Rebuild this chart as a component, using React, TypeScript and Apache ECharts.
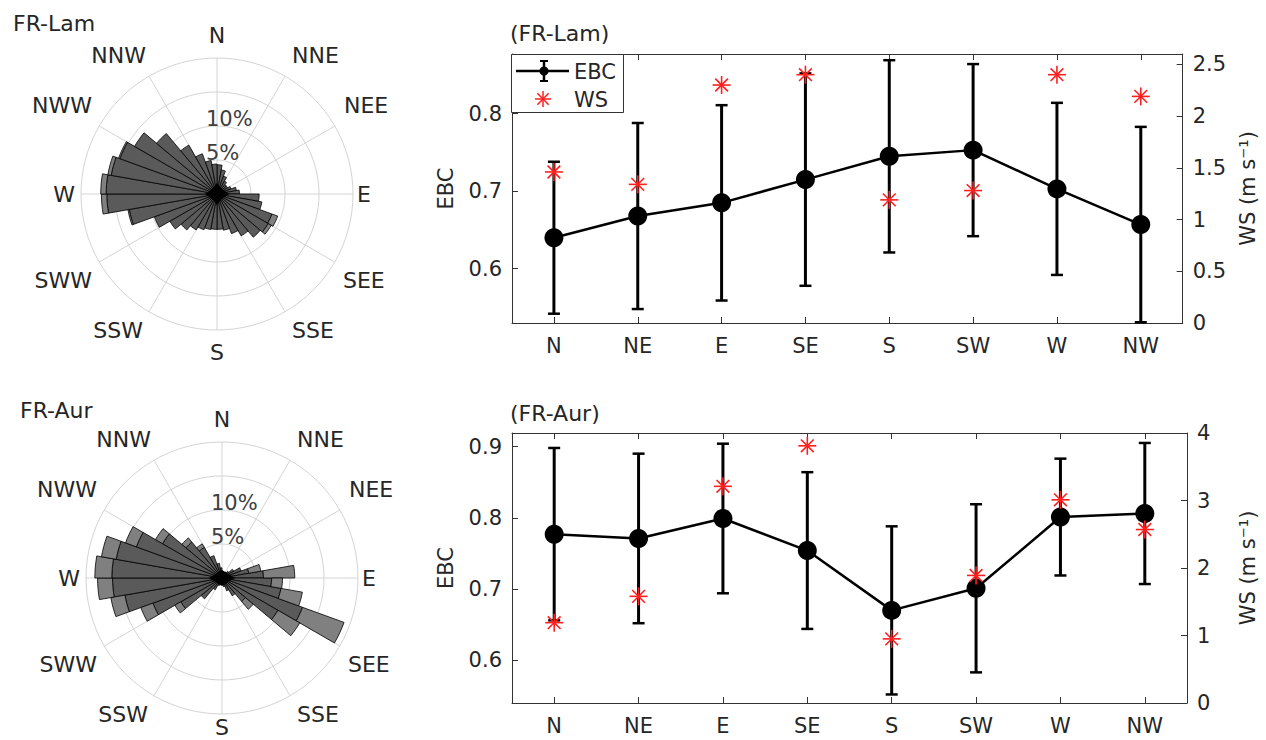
import React, { useEffect, useRef } from 'react';
import * as echarts from 'echarts';

// ---------------- data ----------------
const sectors = ['N', 'NE', 'E', 'SE', 'S', 'SW', 'W', 'NW'];

const ebcLam = [0.640, 0.668, 0.685, 0.715, 0.745, 0.753, 0.703, 0.657];
const ebcLamSd = [0.098, 0.120, 0.126, 0.137, 0.124, 0.111, 0.111, 0.126];
const wsLam = [1.46, 1.34, 2.30, 2.40, 1.19, 1.28, 2.40, 2.19];

const ebcAur = [0.777, 0.771, 0.799, 0.754, 0.670, 0.701, 0.801, 0.806];
const ebcAurSd = [0.121, 0.119, 0.105, 0.110, 0.118, 0.118, 0.082, 0.099];
const wsAur = [1.19, 1.58, 3.21, 3.81, 0.95, 1.89, 3.01, 2.57];

// wind-rose bins (centre direction, degrees clockwise from N)
const roseDirs = [5, 15, 25, 35, 45, 55, 65, 75, 85, 95, 105, 115, 125, 135, 145, 155, 165, 175,
  185, 195, 205, 215, 225, 235, 245, 255, 265, 275, 285, 295, 305, 315, 325, 335, 345, 355];
// frequency (%) – dark (low speed) part and light (high speed) part
const lamDark = [4.3, 3.6, 2.8, 2.2, 1.8, 1.8, 2.2, 2.9, 3.3, 6.2, 6.7, 8.6, 8.7, 8.3, 7.1, 6.2, 5.4, 5.2,
  5.2, 5.3, 5.6, 6.1, 6.9, 8.0, 9.8, 13.1, 16.2, 16.3, 15.8, 15.2, 14.0, 11.6, 8.3, 6.3, 5.0, 4.4];
const lamLight = [0, 0, 0, 0, 0, 0, 0, 0, 0, 0, 0, 0.9, 0.5, 0, 0, 0, 0, 0,
  0, 0, 0, 0, 0, 0, 0, 0.2, 0.8, 0.8, 0.5, 0.2, 0, 0, 0, 0, 0, 0];
const aurDark = [1.0, 0.9, 0.9, 1.0, 1.3, 2.0, 3.0, 4.0, 6.1, 7.3, 8.8, 12.6, 9.5, 4.5, 3.0, 2.0, 1.3, 1.0,
  0.9, 1.0, 1.2, 2.0, 4.0, 7.0, 10.8, 14.5, 16.1, 16.2, 15.8, 13.4, 10.1, 6.9, 5.2, 3.5, 2.2, 1.5];
const aurLight = [0, 0, 0, 0, 0, 0, 0, 1.8, 4.6, 1.6, 3.2, 6.5, 3.7, 1.5, 0, 0, 0, 0,
  0, 0, 0, 0, 0, 1.0, 1.9, 2.1, 2.2, 2.5, 2.2, 1.7, 1.2, 0.8, 0.6, 0, 0, 0];

const roseRings = [5, 10, 15, 20];
const ringLabels = ['5%', '10%'];
const spokeDirs = [0, 30, 60, 90, 120, 150, 180, 210, 240, 270, 300, 330];
const dirLabels = ['N', 'NNE', 'NEE', 'E', 'SEE', 'SSE', 'S', 'SSW', 'SWW', 'W', 'NWW', 'NNW'];

// ---------------- style / layout ----------------
const FONT = 'DejaVu Sans';
const TXT = '#262626';
const AX = '#333333';
const RED = '#ff1f1f';
const DARK = '#5a5a5a';
const LIGHT = '#808080';
const ROSE_R = 136; // px of the 20 % ring
const roseLam = { cx: 217, cy: 194, blobX: 12, blobY: 11 };
const roseAur = { cx: 222, cy: 578, blobX: 13, blobY: 8 };
// label placement around rose: [dx, dy, align]
const labelPos: [number, number, string][] = [
  [0, -159, 'center'], [75, -139, 'left'], [127, -89, 'left'], [140, 0, 'left'],
  [126, 86, 'left'], [75, 136, 'left'], [0, 158, 'center'], [-74, 136, 'right'],
  [-125, 86, 'right'], [-142, 0, 'right'], [-125, -89, 'right'], [-71, -139, 'right'],
];

function catAxis(gridIndex: number, position: string, showLabel: boolean) {
  return {
    type: 'category', gridIndex, position, data: sectors, boundaryGap: true,
    axisLine: { show: true, onZero: false, lineStyle: { color: AX, width: 1 } },
    axisTick: { show: true, inside: true, alignWithLabel: true, length: 6, lineStyle: { color: AX } },
    axisLabel: { show: showLabel, color: TXT, fontFamily: FONT, fontSize: 21, margin: 12 },
    splitLine: { show: false },
  };
}

function valAxis(gridIndex: number, position: string, extra: any, name: string, nameGap: number) {
  return {
    type: 'value', gridIndex, position,
    axisLine: { show: true, onZero: false, lineStyle: { color: AX, width: 1 } },
    axisTick: { show: true, inside: true, length: 6, lineStyle: { color: AX } },
    axisLabel: { color: TXT, fontFamily: FONT, fontSize: 21, margin: 10, showMinLabel: extra.showMin, showMaxLabel: extra.showMax },
    splitLine: { show: false },
    name, nameLocation: 'middle', nameGap, nameRotate: 90,
    nameTextStyle: { color: TXT, fontFamily: FONT, fontSize: 21 },
    ...extra.range,
  };
}

function hiddenAxis(gridIndex: number) {
  return { type: 'value', gridIndex, min: -20, max: 20, show: false };
}

const errRender = (params: any, api: any) => {
  const x = api.value(0), m = api.value(1), e = api.value(2);
  const top = api.coord([x, m + e]);
  const bot = api.coord([x, m - e]);
  const w = 6;
  const st = { stroke: '#000', lineWidth: 3 };
  return {
    type: 'group', children: [
      { type: 'line', shape: { x1: top[0], y1: top[1], x2: bot[0], y2: bot[1] }, style: st },
      { type: 'line', shape: { x1: top[0] - w, y1: top[1], x2: top[0] + w, y2: top[1] }, style: { stroke: '#000', lineWidth: 2.5 } },
      { type: 'line', shape: { x1: bot[0] - w, y1: bot[1], x2: bot[0] + w, y2: bot[1] }, style: { stroke: '#000', lineWidth: 2.5 } },
    ],
  };
};

function asterisk(cx: number, cy: number, h: number, lw: number) {
  const d = h * 0.7071;
  const st = { stroke: RED, lineWidth: lw };
  return [
    { type: 'line', shape: { x1: cx, y1: cy - h, x2: cx, y2: cy + h }, style: st },
    { type: 'line', shape: { x1: cx - h, y1: cy, x2: cx + h, y2: cy }, style: st },
    { type: 'line', shape: { x1: cx - d, y1: cy - d, x2: cx + d, y2: cy + d }, style: st },
    { type: 'line', shape: { x1: cx - d, y1: cy + d, x2: cx + d, y2: cy - d }, style: st },
  ];
}

const starRender = (params: any, api: any) => {
  const p = api.coord([api.value(0), api.value(1)]);
  return { type: 'group', children: asterisk(p[0], p[1], 9, 1.6) };
};

function roseBarRender(fill: string) {
  return (params: any, api: any) => {
    const ang = api.value(0), r0 = api.value(1), r1 = api.value(2);
    if (!(r1 > r0)) return null;
    const pts: number[][] = [];
    const steps = 4;
    for (let s = 0; s <= steps; s++) {
      const a = (ang - 5 + (10 * s) / steps) * Math.PI / 180;
      pts.push(api.coord([r1 * Math.sin(a), r1 * Math.cos(a)]));
    }
    for (let s = steps; s >= 0; s--) {
      const a = (ang - 5 + (10 * s) / steps) * Math.PI / 180;
      pts.push(api.coord([r0 * Math.sin(a), r0 * Math.cos(a)]));
    }
    return { type: 'polygon', shape: { points: pts }, style: { fill, stroke: '#000', lineWidth: 0.8 } };
  };
}

const ringRender = (params: any, api: any) => {
  const r = api.value(0);
  const c = api.coord([0, 0]);
  const e = api.coord([r, 0]);
  return { type: 'circle', shape: { cx: c[0], cy: c[1], r: e[0] - c[0] }, style: { fill: 'none', stroke: '#d4d4d4', lineWidth: 1 } };
};

const spokeRender = (params: any, api: any) => {
  const a = api.value(0) * Math.PI / 180;
  const c = api.coord([0, 0]);
  const e = api.coord([20 * Math.sin(a), 20 * Math.cos(a)]);
  return { type: 'line', shape: { x1: c[0], y1: c[1], x2: e[0], y2: e[1] }, style: { stroke: '#d4d4d4', lineWidth: 1 } };
};

function roseSeries(axisIndex: number, dark: number[], light: number[]) {
  const base = { type: 'custom', coordinateSystem: 'cartesian2d', xAxisIndex: axisIndex, yAxisIndex: axisIndex, silent: true, clip: false };
  return [
    { ...base, z: 1, renderItem: ringRender, data: roseRings.map((r) => [r, 0]) },
    { ...base, z: 1, renderItem: spokeRender, data: spokeDirs.map((d) => [d, 0]) },
    { ...base, z: 2, renderItem: roseBarRender(DARK), data: roseDirs.map((d, i) => [d, 0, dark[i]]) },
    { ...base, z: 2, renderItem: roseBarRender(LIGHT), data: roseDirs.map((d, i) => [d, dark[i], dark[i] + light[i]]) },
  ];
}

function roseGraphics(c: { cx: number; cy: number; blobX: number; blobY: number }, title: string, tx: number, ty: number) {
  const els: any[] = [];
  dirLabels.forEach((lab, i) => {
    const [dx, dy, align] = labelPos[i];
    const y = Math.min(c.cy + dy, 727);
    els.push({ type: 'text', x: c.cx + dx, y, style: { text: lab, fill: TXT, font: `22px "${FONT}"`, textAlign: align, textVerticalAlign: 'middle' }, z: 10 });
  });
  ringLabels.forEach((lab, i) => {
    els.push({ type: 'text', x: c.cx - 11, y: c.cy - (roseRings[i] / 20) * ROSE_R + 3, style: { text: lab, fill: '#404040', font: `21px "${FONT}"`, textAlign: 'left', textVerticalAlign: 'bottom' }, z: 10 });
  });
  const bx = c.blobX, by = c.blobY, bi = 5;
  els.push({
    type: 'polygon', z: 10,
    shape: { points: [[c.cx, c.cy - by], [c.cx + bi, c.cy - bi], [c.cx + bx, c.cy], [c.cx + bi, c.cy + bi], [c.cx, c.cy + by], [c.cx - bi, c.cy + bi], [c.cx - bx, c.cy], [c.cx - bi, c.cy - bi]] },
    style: { fill: '#000' },
  });
  els.push({ type: 'circle', shape: { cx: c.cx, cy: c.cy, r: 6 }, style: { fill: '#000' }, z: 10 });
  els.push({ type: 'text', x: tx, y: ty, style: { text: title, fill: TXT, font: `22px "${FONT}"`, textAlign: 'left', textVerticalAlign: 'middle' }, z: 10 });
  return els;
}

function legendGraphics() {
  const x0 = 511.5, y0 = 54.5;
  const els: any[] = [
    { type: 'rect', shape: { x: x0, y: y0, width: 112, height: 58 }, style: { fill: '#fff', stroke: AX, lineWidth: 1 }, z: 50 },
    { type: 'line', shape: { x1: 516, y1: 71, x2: 569, y2: 71 }, style: { stroke: '#000', lineWidth: 2.5 }, z: 51 },
    { type: 'line', shape: { x1: 544, y1: 61, x2: 544, y2: 81 }, style: { stroke: '#000', lineWidth: 2.5 }, z: 51 },
    { type: 'line', shape: { x1: 540, y1: 61, x2: 548, y2: 61 }, style: { stroke: '#000', lineWidth: 2 }, z: 51 },
    { type: 'line', shape: { x1: 540, y1: 81, x2: 548, y2: 81 }, style: { stroke: '#000', lineWidth: 2 }, z: 51 },
    { type: 'circle', shape: { cx: 544, cy: 71, r: 4.5 }, style: { fill: '#000' }, z: 51 },
    { type: 'text', x: 574, y: 72, style: { text: 'EBC', fill: TXT, font: `21px "${FONT}"`, textVerticalAlign: 'middle' }, z: 51 },
    { type: 'text', x: 574, y: 100, style: { text: 'WS', fill: TXT, font: `21px "${FONT}"`, textVerticalAlign: 'middle' }, z: 51 },
  ];
  asterisk(543, 99, 8, 1.5).forEach((l) => els.push({ ...l, z: 51 }));
  return els;
}

function buildOption() {
  return {
    animation: false,
    backgroundColor: '#fff',
    grid: [
      { left: 512, top: 54, width: 681, height: 269 },
      { left: 512, top: 433, width: 681, height: 270 },
      { left: roseLam.cx - ROSE_R, top: roseLam.cy - ROSE_R, width: 2 * ROSE_R, height: 2 * ROSE_R },
      { left: roseAur.cx - ROSE_R, top: roseAur.cy - ROSE_R, width: 2 * ROSE_R, height: 2 * ROSE_R },
    ],
    xAxis: [
      catAxis(0, 'bottom', true), catAxis(0, 'top', false),
      catAxis(1, 'bottom', true), catAxis(1, 'top', false),
      hiddenAxis(2), hiddenAxis(3),
    ],
    yAxis: [
      valAxis(0, 'left', { showMin: false, showMax: false, range: { min: 0.53, max: 0.877, splitNumber: 3 } }, 'EBC', 56),
      valAxis(0, 'right', { showMin: true, showMax: false, range: { min: 0, max: 2.6, interval: 0.5 } }, 'WS (m s⁻¹)', 50),
      valAxis(1, 'left', { showMin: false, showMax: false, range: { min: 0.54, max: 0.919, splitNumber: 3 } }, 'EBC', 56),
      valAxis(1, 'right', { showMin: true, showMax: true, range: { min: 0, max: 4, interval: 1 } }, 'WS (m s⁻¹)', 50),
      hiddenAxis(2), hiddenAxis(3),
    ],
    series: [
      { type: 'custom', xAxisIndex: 0, yAxisIndex: 0, z: 2, renderItem: errRender, data: ebcLam.map((m, i) => [i, m, ebcLamSd[i]]) },
      { type: 'line', xAxisIndex: 0, yAxisIndex: 0, z: 3, data: ebcLam, symbol: 'circle', symbolSize: 19, itemStyle: { color: '#000' }, lineStyle: { color: '#000', width: 2.5 } },
      { type: 'custom', xAxisIndex: 0, yAxisIndex: 1, z: 4, renderItem: starRender, data: wsLam.map((v, i) => [i, v]) },
      { type: 'custom', xAxisIndex: 2, yAxisIndex: 2, z: 2, renderItem: errRender, data: ebcAur.map((m, i) => [i, m, ebcAurSd[i]]) },
      { type: 'line', xAxisIndex: 2, yAxisIndex: 2, z: 3, data: ebcAur, symbol: 'circle', symbolSize: 19, itemStyle: { color: '#000' }, lineStyle: { color: '#000', width: 2.5 } },
      { type: 'custom', xAxisIndex: 2, yAxisIndex: 3, z: 4, renderItem: starRender, data: wsAur.map((v, i) => [i, v]) },
      ...roseSeries(4, lamDark, lamLight),
      ...roseSeries(5, aurDark, aurLight),
    ],
    graphic: {
      elements: [
        { type: 'text', x: 510, y: 33, style: { text: '(FR-Lam)', fill: TXT, font: `22px "${FONT}"`, textVerticalAlign: 'middle' }, z: 10 },
        { type: 'text', x: 510, y: 413, style: { text: '(FR-Aur)', fill: TXT, font: `22px "${FONT}"`, textVerticalAlign: 'middle' }, z: 10 },
        ...roseGraphics(roseLam, 'FR-Lam', 13, 23),
        ...roseGraphics(roseAur, 'FR-Aur', 20, 410),
        ...legendGraphics(),
      ],
    },
  };
}

export default function App() {
  const ref = useRef<HTMLDivElement>(null);
  useEffect(() => {
    const chart = echarts.init(ref.current!, null, { renderer: 'svg' });
    chart.setOption(buildOption() as any);
    return () => chart.dispose();
  }, []);
  return (
    <div
      ref={ref}
      style={{ position: 'fixed', left: 0, top: 0, width: 1266, height: 740, background: '#fff' }}
    />
  );
}
